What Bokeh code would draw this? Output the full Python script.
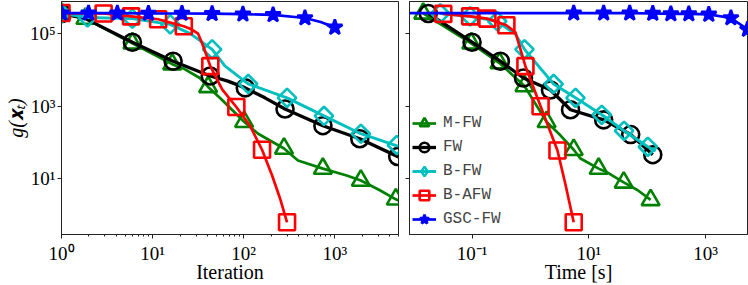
import math
from bokeh.plotting import figure
from bokeh.models import Range1d, FixedTicker, CustomJSTickFormatter, Legend, LegendItem
from bokeh.layouts import row
from bokeh.embed import file_html
from bokeh.resources import INLINE

# ---------------- data: Iteration panel ----------------
it_mfw_x = [1, 1.83, 6, 16.4, 21.7, 33, 40.7, 55, 101, 144, 277, 394, 739, 1350, 1930, 3120, 4670, 5000]
it_mfw_y = [3.6e5, 2.6e5, 5.4e4, 1.44e4, 1.1e4, 6.0e3, 3.4e3, 1.69e3, 372, 174, 68, 32, 19, 12.3, 8.9, 4.8, 2.7, 2.5]
it_mfw_mx = [1, 1.83, 6, 16.4, 40.7, 101, 277, 739, 1930, 4670]
it_mfw_my = [3.6e5, 2.6e5, 5.4e4, 1.44e4, 3.4e3, 372, 68, 19, 8.9, 2.7]

it_fw_x = [1, 1.83, 6, 16.8, 42.9, 67, 104, 171, 284, 740, 1880, 5000]
it_fw_y = [3.6e5, 2.6e5, 5.8e4, 1.74e4, 6.8e3, 4.9e3, 3.2e3, 1.7e3, 835, 290, 127, 40]
it_fw_mx = [1, 6, 16.8, 42.9, 104, 284, 740, 1880, 4900]
it_fw_my = [3.6e5, 5.8e4, 1.74e4, 6.8e3, 3.2e3, 835, 290, 127, 41]

it_bfw_x = [1, 1.93, 6, 15.6, 25.9, 45, 62.5, 112, 299, 760, 1930, 5000]
it_bfw_y = [3.6e5, 2.8e5, 2.6e5, 1.8e5, 1.0e5, 3.7e4, 1.27e4, 4.1e3, 1.7e3, 540, 174, 78]
it_bfw_mx = [1, 1.93, 6, 15.6, 45, 112, 299, 760, 1930, 4790]
it_bfw_my = [3.6e5, 2.8e5, 2.6e5, 1.8e5, 3.7e4, 4.1e3, 1.7e3, 540, 174, 85]

it_bafw_x = [1, 2.9, 5.8, 11.5, 22, 27, 31.6, 36, 43, 58, 83, 117, 159, 205, 250, 299]
it_bafw_y = [3.6e5, 3.6e5, 3.0e5, 2.5e5, 1.6e5, 1.3e5, 1.0e5, 4.5e4, 1.27e4, 2.9e3, 950, 290, 63, 12.3, 2.9, 0.63]
it_bafw_mx = [1, 2.9, 5.8, 11.5, 22, 43, 83, 159, 299]
it_bafw_my = [3.7e5, 3.6e5, 3.0e5, 2.5e5, 1.6e5, 1.27e4, 950, 63, 0.63]

it_gsc_x = [1, 1.98, 4.1, 9, 21, 45, 98, 210, 470, 700, 1000]
it_gsc_y = [3.66e5, 3.66e5, 3.66e5, 3.6e5, 3.6e5, 3.55e5, 3.44e5, 3.3e5, 2.7e5, 2.1e5, 1.49e5]
it_gsc_mx = [1, 1.98, 4.1, 9, 21, 45, 98, 210, 470, 1000]
it_gsc_my = [3.66e5, 3.66e5, 3.66e5, 3.6e5, 3.6e5, 3.55e5, 3.44e5, 3.3e5, 2.7e5, 1.49e5]

# ---------------- data: Time panel ----------------
t_mfw_x = [0.0146, 0.097, 0.295, 0.79, 1.89, 3.28, 5.5, 7.2, 14.7, 20.9, 39.5, 68.7, 114]
t_mfw_y = [3.6e5, 5.4e4, 1.55e4, 3.6e3, 370, 155, 63, 36, 19, 14.8, 7.9, 4.8, 2.6]
t_mfw_mx = [0.0146, 0.097, 0.295, 0.79, 1.89, 5.5, 14.7, 39.5, 114]
t_mfw_my = [3.6e5, 5.4e4, 1.55e4, 3.6e3, 370, 63, 19, 7.9, 2.6]

t_fw_x = [0.0178, 0.1, 0.305, 0.76, 2.2, 4.85, 17.9, 52, 124]
t_fw_y = [3.6e5, 5.8e4, 1.74e4, 6.0e3, 2.8e3, 800, 420, 165, 46]
t_fw_mx = t_fw_x
t_fw_my = t_fw_y

t_bfw_x = [0.0286, 0.093, 0.27, 0.553, 0.79, 2.49, 5.9, 16.6, 40, 102, 139]
t_bfw_y = [3.6e5, 3.0e5, 2.2e5, 9.6e4, 3.7e4, 4.1e3, 1.7e3, 580, 210, 76, 58]
t_bfw_mx = [0.0286, 0.093, 0.27, 0.79, 2.49, 5.9, 16.6, 40, 102]
t_bfw_my = [3.6e5, 3.0e5, 2.2e5, 3.7e4, 4.1e3, 1.7e3, 580, 210, 76]

t_bafw_x = [0.0322, 0.093, 0.183, 0.387, 0.553, 0.82, 1.49, 2.9, 4.0, 5.5]
t_bafw_y = [3.5e5, 3.0e5, 2.6e5, 1.7e5, 1.09e5, 1.27e4, 1.0e3, 60, 6.6, 0.63]
t_bafw_mx = [0.0322, 0.093, 0.183, 0.387, 0.82, 1.49, 2.9, 5.5]
t_bafw_my = [3.5e5, 3.0e5, 2.6e5, 1.7e5, 1.27e4, 1.0e3, 60, 0.63]

t_gsc_x = [0.0085, 5.5, 17.9, 50, 124, 253, 514, 1130, 2700, 5190]
t_gsc_y = [3.66e5, 3.66e5, 3.66e5, 3.66e5, 3.6e5, 3.5e5, 3.5e5, 3.4e5, 2.7e5, 1.31e5]
t_gsc_mx = [5.5, 17.9, 50, 124, 253, 514, 1130, 2700, 5190]
t_gsc_my = [3.66e5, 3.66e5, 3.66e5, 3.6e5, 3.5e5, 3.5e5, 3.4e5, 2.7e5, 1.31e5]

names = ["M-FW", "FW", "B-FW", "B-AFW", "GSC-FW"]
colors = ["#008000", "#000000", "#00BFBF", "#FF0000", "#0000FF"]
marks = ["triangle", "circle", "square", "square", "star"]
angles = [0, 0, math.pi / 4, 0, 0]
msizes = [18, 17, 13, 16, 16]
lwidths = [2.7, 3.3, 2.9, 2.7, 2.7]

it_x_ticks = [1, 10, 100, 1000]
it_x_minor = [m * 10 ** k for k in range(0, 4) for m in range(2, 10)]
t_x_ticks = [0.1, 10, 1000]
y_ticks = [10, 1e3, 1e5]

SUP = """
const sup = {"0":"\u2070","1":"\u00b9","2":"\u00b2","3":"\u00b3","4":"\u2074","5":"\u2075",
             "6":"\u2076","7":"\u2077","8":"\u2078","9":"\u2079","-":"\u207b"};
const e = Math.round(Math.log10(tick));
return "10" + String(e).split("").map(c => sup[c]).join("");
"""

SERIF = "Liberation Serif"


def style_axis(ax):
    ax.axis_line_color = "#222222"
    ax.major_tick_line_color = "#222222"
    ax.minor_tick_line_color = "#222222"
    ax.major_tick_out = 4
    ax.major_tick_in = 0
    ax.minor_tick_out = 2
    ax.minor_tick_in = 0
    ax.major_label_text_font = SERIF
    ax.major_label_text_font_size = "19px"
    ax.major_label_text_color = "black"
    ax.axis_label_text_font = SERIF
    ax.axis_label_text_font_size = "20px"
    ax.axis_label_text_font_style = "normal"
    ax.axis_label_text_color = "black"


def make_fig(width, xr, xticks, xminor, xlabel, show_ylab, mb_left, mb_right):
    p = figure(width=width, height=285, x_axis_type="log", y_axis_type="log",
               x_range=Range1d(*xr), y_range=Range1d(0.29, 7.7e5),
               output_backend="svg", toolbar_location=None,
               min_border_top=1, min_border_left=mb_left, min_border_right=mb_right,
               min_border_bottom=0)
    p.grid.visible = False
    p.outline_line_color = "#222222"
    p.outline_line_width = 1
    p.background_fill_color = "white"
    p.border_fill_color = "white"
    p.xaxis.ticker = FixedTicker(ticks=xticks, minor_ticks=xminor)
    p.yaxis.ticker = FixedTicker(ticks=y_ticks, minor_ticks=[])
    p.xaxis.formatter = CustomJSTickFormatter(code=SUP)
    if show_ylab:
        p.yaxis.formatter = CustomJSTickFormatter(code=SUP)
        p.yaxis.axis_label = "g(\U0001D431\u209C)"
    else:
        p.yaxis.formatter = CustomJSTickFormatter(code="return '';")
    p.xaxis.axis_label = xlabel
    style_axis(p.xaxis[0])
    style_axis(p.yaxis[0])
    p.xaxis.major_label_standoff = 4
    p.xaxis.axis_label_standoff = -6
    p.yaxis.major_label_standoff = 2 if show_ylab else 0
    p.yaxis.axis_label_standoff = 0
    if show_ylab:
        p.yaxis.axis_label_text_font_style = "italic"
    return p


def add_series(p, lx, ly, mx, my, i):
    lr = p.line(lx, ly, line_color=colors[i], line_width=lwidths[i])
    sr = p.scatter(mx, my, marker=marks[i], size=msizes[i], angle=angles[i],
                   line_color=colors[i], line_width=2.6,
                   fill_color=colors[i], fill_alpha=(1.0 if marks[i] == "star" else 0.0))
    return lr, sr


p1 = make_fig(401, (1, 5000), it_x_ticks, it_x_minor, "Iteration", True, 61, 3)
it_data = [
    (it_mfw_x, it_mfw_y, it_mfw_mx, it_mfw_my),
    (it_fw_x, it_fw_y, it_fw_mx, it_fw_my),
    (it_bfw_x, it_bfw_y, it_bfw_mx, it_bfw_my),
    (it_bafw_x, it_bafw_y, it_bafw_mx, it_bafw_my),
    (it_gsc_x, it_gsc_y, it_gsc_mx, it_gsc_my),
]
for i, d in enumerate(it_data):
    add_series(p1, *d, i)

p2 = make_fig(347, (0.0085, 5190), t_x_ticks, [], "Time [s]", False, 8, 1)
t_data = [
    (t_mfw_x, t_mfw_y, t_mfw_mx, t_mfw_my),
    (t_fw_x, t_fw_y, t_fw_mx, t_fw_my),
    (t_bfw_x, t_bfw_y, t_bfw_mx, t_bfw_my),
    (t_bafw_x, t_bafw_y, t_bafw_mx, t_bafw_my),
    (t_gsc_x, t_gsc_y, t_gsc_mx, t_gsc_my),
]
items = []
for i, d in enumerate(t_data):
    lr, sr = add_series(p2, *d, i)
    if i == 2:
        # legend swatch for the diamond marker (legend ignores marker angle)
        sw = p2.scatter([math.nan], [math.nan], marker="diamond", size=msizes[i],
                        line_color=colors[i], line_width=2.4, fill_alpha=0.0)
        items.append(LegendItem(label=names[i], renderers=[lr, sw]))
    else:
        items.append(LegendItem(label=names[i], renderers=[lr, sr]))

legend = Legend(items=items, location=(3, 3), orientation="vertical",
                label_text_font="Liberation Mono", label_text_font_size="16px",
                glyph_width=24, glyph_height=24, label_height=24, spacing=0,
                label_standoff=7, padding=0, margin=0,
                border_line_alpha=0, background_fill_alpha=0)
p2.add_layout(legend)

layout = row(p1, p2, spacing=0)
open("out.html", "w").write(file_html(layout, INLINE))
